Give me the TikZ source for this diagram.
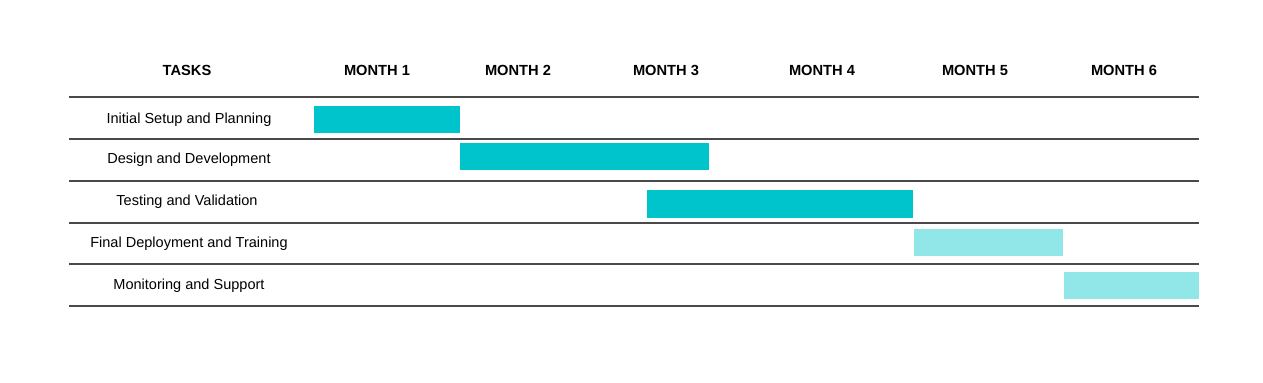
\documentclass[tikz,border=0pt]{standalone}
\usepackage{fontspec}
\setmainfont{Liberation Sans}
\definecolor{tealdark}{HTML}{00C4CC}
\definecolor{teallight}{HTML}{91E6E8}
\definecolor{rulegray}{HTML}{4A4A4A}
\begin{document}
\begin{tikzpicture}[x=0.75pt,y=-0.75pt,
  hdr/.style={font=\bfseries\fontsize{11}{13}\selectfont, anchor=center},
  task/.style={font=\fontsize{10.9}{13}\selectfont, anchor=center},
  rowline/.style={draw=rulegray, line width=1pt},
  bardark/.style={fill=tealdark, draw=none},
  barlight/.style={fill=teallight, draw=none}]
\useasboundingbox (0,0) rectangle (1263,382);
% header
\node[hdr] (h0) at (187,70) {TASKS};
\node[hdr] (h1) at (377,70) {MONTH 1};
\node[hdr] (h2) at (518,70) {MONTH 2};
\node[hdr] (h3) at (666,70) {MONTH 3};
\node[hdr] (h4) at (822,70) {MONTH 4};
\node[hdr] (h5) at (975,70) {MONTH 5};
\node[hdr] (h6) at (1124,70) {MONTH 6};
% row lines
\foreach \y/\n in {97/l0,139/l1,181/l2,223/l3,264/l4,306/l5}{
  \coordinate (\n a) at (69,\y);
  \coordinate (\n b) at (1199,\y);
  \draw[rowline] (\n a) -- (\n b);
}
% tasks
\node[task] (t1) at (189,120) {Initial Setup and Planning};
\node[task] (t2) at (189,160) {Design and Development};
\node[task] (t3) at (187,202) {Testing and Validation};
\node[task] (t4) at (189,244) {Final Deployment and Training};
\node[task] (t5) at (189,286) {Monitoring and Support};
% bars
\fill[bardark] (314,106) rectangle (460,133);
\fill[bardark] (460,143) rectangle (709,170);
\fill[bardark] (647,190) rectangle (913,218);
\fill[barlight] (914,229) rectangle (1063,256);
\fill[barlight] (1064,272) rectangle (1199,299);
\end{tikzpicture}
\end{document}
